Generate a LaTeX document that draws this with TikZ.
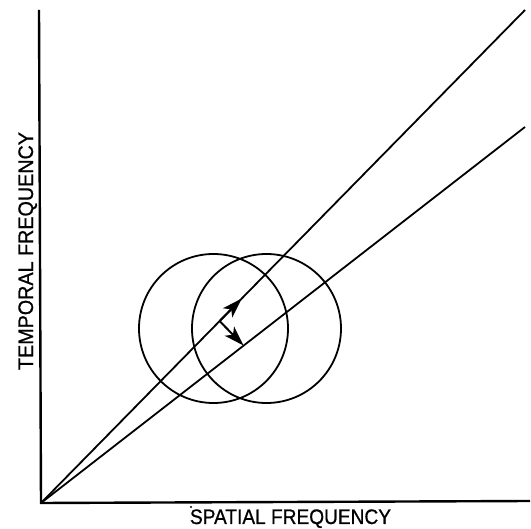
\documentclass[tikz,border=0pt]{standalone}
\usepackage{fontspec}
\setmainfont{Liberation Sans}
\newfontfamily\lblfont[FakeBold=0.8]{Liberation Sans}
\usetikzlibrary{arrows.meta,calc}
\begin{document}
\begin{tikzpicture}[x=1pt,y=-1pt,
  axisline/.style={line width=2.4pt},
  rayline/.style={line width=1.8pt},
  ring/.style={circle,draw,line width=1.8pt,minimum size=149pt,inner sep=0pt},
  vec/.style={line width=2pt,-{Stealth[length=20pt,width=13pt,inset=5pt]}},
  lbl/.style={inner sep=0pt,anchor=base,font=\lblfont\fontsize{21pt}{21pt}\selectfont}]
\useasboundingbox (0,0) rectangle (531,529);
\fill[white] (0,0) rectangle (531,529);
\coordinate (O) at (41,503);
\coordinate (Ytop) at (39,10);
\coordinate (Xend) at (530,501);
\coordinate (U) at (525,10);
\coordinate (L) at (525,127);
\draw[axisline] (Ytop) -- (O) -- (Xend);
\draw[rayline] (O) -- (U);
\draw[rayline] (O) -- (L);
\node[ring] (c1) at (213.5,328.5) {};
\node[ring] (c2) at (266.5,328.5) {};
\coordinate (P) at ($(O)!0.369!(U)$);
\coordinate (A1) at ($(O)!0.4147!(U)$);
\coordinate (A2) at (243.5,345.5);
\draw[vec] (P) -- (A1);
\draw[vec] (P) -- (A2);
\node[lbl] (xl) at (290.5,524) {\scalebox{0.91}[1]{SPATIAL FREQUENCY}};
\node[lbl,rotate=90] (yl) at (33,251) {\scalebox{0.94}[1]{TEMPORAL FREQUENCY}};
\fill (191,507) circle (1.2pt);
\end{tikzpicture}
\end{document}
